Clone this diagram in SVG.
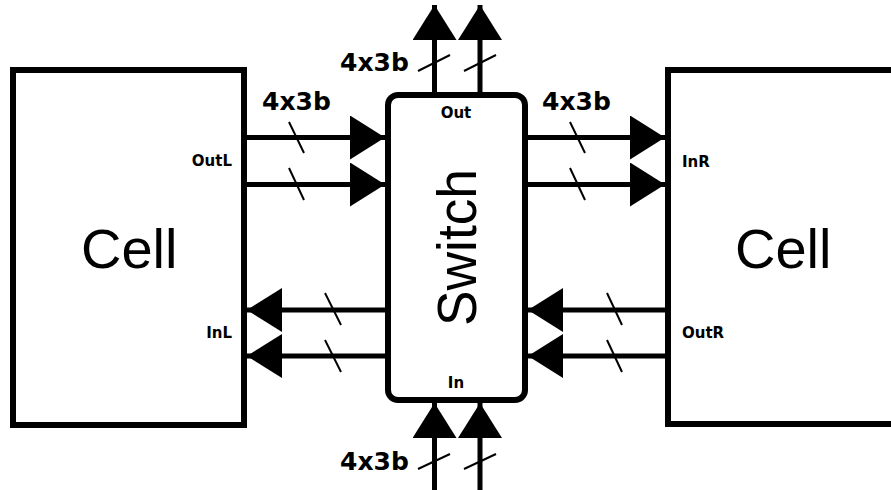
<svg xmlns="http://www.w3.org/2000/svg" width="891" height="490" viewBox="0 0 891 490">
<style>
.box{fill:#fff;stroke:#000;stroke-width:6}
.wire{stroke:#000;stroke-width:5;fill:none}
.slash{stroke:#000;stroke-width:2;fill:none}
.bus{font-family:"DejaVu Sans",Verdana,sans-serif;font-weight:bold;font-size:25px;fill:#000}
.port{font-family:"DejaVu Sans",Verdana,sans-serif;font-weight:bold;font-size:15px;fill:#000}
.big{font-family:"Liberation Sans",Arial,sans-serif;font-size:56px;fill:#000}
</style>
<defs>
<marker id="ah" markerUnits="userSpaceOnUse" markerWidth="36" markerHeight="44" refX="35" refY="22" orient="auto">
<path d="M0,0 L35,22 L0,44 z" fill="#000"/>
</marker>
</defs>
<rect width="891" height="490" fill="#fff"/>
<g id="cellL">
<rect class="box" x="13" y="70" width="231" height="355"/>
<text class="big" x="81" y="268">Cell</text>
<text class="port" x="232" y="166" text-anchor="end">OutL</text>
<text class="port" x="232" y="338" text-anchor="end">InL</text>
</g>
<g id="cellR">
<rect class="box" x="668" y="70" width="300" height="354"/>
<text class="big" x="735" y="268">Cell</text>
<text class="port" x="682" y="167">InR</text>
<text class="port" x="682" y="338">OutR</text>
</g>
<g id="switch">
<rect class="box" x="388" y="95" width="137" height="305" rx="10"/>
<text class="big" font-size="60" transform="translate(476,247.5) rotate(-90)" text-anchor="middle" textLength="157" lengthAdjust="spacingAndGlyphs">Switch</text>
<text class="port" x="456" y="118" text-anchor="middle">Out</text>
<text class="port" x="456" y="388" text-anchor="middle">In</text>
</g>
<g id="connectors">
<line class="wire" x1="247" y1="137.5" x2="385" y2="137.5" marker-end="url(#ah)"/>
<line class="wire" x1="247" y1="184.5" x2="385" y2="184.5" marker-end="url(#ah)"/>
<line class="wire" x1="528" y1="137.5" x2="665" y2="137.5" marker-end="url(#ah)"/>
<line class="wire" x1="528" y1="184.5" x2="665" y2="184.5" marker-end="url(#ah)"/>
<line class="wire" x1="385" y1="310" x2="247" y2="310" marker-end="url(#ah)"/>
<line class="wire" x1="385" y1="356" x2="247" y2="356" marker-end="url(#ah)"/>
<line class="wire" x1="665" y1="310" x2="528" y2="310" marker-end="url(#ah)"/>
<line class="wire" x1="665" y1="356" x2="528" y2="356" marker-end="url(#ah)"/>
<line class="wire" x1="434.5" y1="92" x2="434.5" y2="5" marker-end="url(#ah)"/>
<line class="wire" x1="480" y1="92" x2="480" y2="5" marker-end="url(#ah)"/>
<line class="wire" x1="434.5" y1="490" x2="434.5" y2="403" marker-end="url(#ah)"/>
<line class="wire" x1="480" y1="490" x2="480" y2="403" marker-end="url(#ah)"/>
<line class="slash" x1="289" y1="122" x2="304" y2="153"/>
<line class="slash" x1="289" y1="168" x2="304" y2="200"/>
<line class="slash" x1="570" y1="122" x2="585" y2="153"/>
<line class="slash" x1="570" y1="168" x2="585" y2="200"/>
<line class="slash" x1="325" y1="293" x2="341" y2="325"/>
<line class="slash" x1="325" y1="340" x2="341" y2="372"/>
<line class="slash" x1="607" y1="293" x2="622" y2="325"/>
<line class="slash" x1="607" y1="340" x2="622" y2="372"/>
<line class="slash" x1="418" y1="71" x2="450" y2="55"/>
<line class="slash" x1="464" y1="71" x2="496" y2="55"/>
<line class="slash" x1="418" y1="469" x2="450" y2="454"/>
<line class="slash" x1="464" y1="469" x2="496" y2="454"/>
<text class="bus" x="340" y="71">4x3b</text>
<text class="bus" x="262" y="110">4x3b</text>
<text class="bus" x="542" y="110">4x3b</text>
<text class="bus" x="340" y="470">4x3b</text>
</g>
</svg>
